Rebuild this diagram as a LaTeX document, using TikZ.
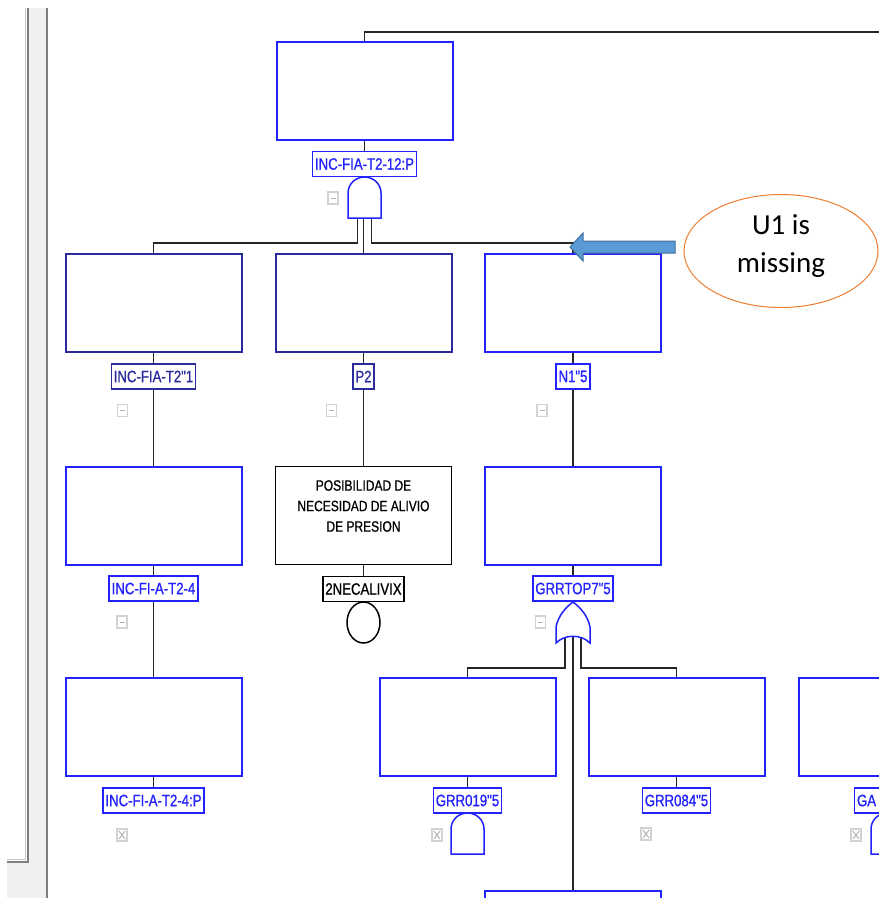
\documentclass[tikz,border=0pt]{standalone}
\usepackage{fontspec}
\usetikzlibrary{shapes.geometric}
\newfontfamily\ftafont[FakeStretch=0.8,FakeBold=0.8]{Liberation Sans}
\newfontfamily\notefont{Carlito}
\definecolor{evblue}{HTML}{2222FF}
\definecolor{evnavy}{HTML}{2B2B9E}
\definecolor{wirec}{HTML}{262626}
\definecolor{framedark}{HTML}{7E7E7E}
\definecolor{framelight}{HTML}{C4C4C4}
\definecolor{panel}{HTML}{F0F0F0}
\definecolor{iconedgec}{HTML}{D2D2D2}
\definecolor{iconmarkc}{HTML}{B4B4B4}
\definecolor{callout}{HTML}{ED7D31}
\definecolor{arrowfill}{HTML}{5B9BD5}
\definecolor{arrowedge}{HTML}{41719C}

\tikzset{
  evbox/.style={draw=evblue, line width=2pt, fill=white, minimum width=176pt, minimum height=98pt, inner sep=0pt},
  lbl/.style={draw=evblue, text=evblue, line width=1.5pt, fill=white, minimum height=25pt,
              inner xsep=2.5pt, inner ysep=0pt, font=\ftafont\fontsize{16.5}{16.5}\selectfont},
  navy/.style={draw=evnavy, text=evnavy},
  basic/.style={draw=black, text=black, line width=1.6pt},
  wire/.style={draw=wirec, line width=1.8pt},
  gate/.style={draw=evblue, line width=1.5pt, fill=white},
  iconedge/.style={draw=iconedgec, line width=1.2pt, fill=white},
  iconmark/.style={draw=iconmarkc, line width=1pt},
  pics/andgate/.style={code={
    \draw[gate] (-16.5,41) -- (-16.5,16) .. controls (-16.5,7) and (-9,0) .. (0,0)
      .. controls (9,0) and (16.5,7) .. (16.5,16) -- (16.5,41) -- cycle;
  }},
  pics/orgate/.style={code={
    \draw[gate] (-17,41) -- (-17,25) .. controls (-15,14) and (-7,5) .. (0,0)
      .. controls (7,5) and (15,14) .. (17,25) -- (17,41)
      .. controls (8,32) and (-8,32) .. (-17,41) -- cycle;
  }},
  pics/minusicon/.style={code={
    \draw[iconedge] (-5,-6) rectangle (5,6);
    \draw[iconmark] (-2.5,0) -- (2.5,0);
  }},
  pics/crossicon/.style={code={
    \draw[iconedge] (-5,-6) rectangle (5,6);
    \draw[iconmark] (-3,-4) -- (3,4) (-3,4) -- (3,-4);
  }}
}

\begin{document}
\begin{tikzpicture}[x=1pt, y=-1pt]
\useasboundingbox (0,0) rectangle (879,898);
\clip (0,0) rectangle (879,898);

% window frame on the left
\fill[panel] (29,8) rectangle (46,898);
\fill[panel] (7,862) rectangle (46,898);
\draw[framelight, line width=1pt] (25.5,8) -- (25.5,859.5) -- (7,859.5);
\draw[framedark, line width=2.5pt] (28,8) -- (28,862) -- (7,862);
\draw[framedark, line width=2.5pt] (47,8) -- (47,898);

% event boxes
\node[evbox] (top) at (364.5,91) {};
\node[evbox,navy] (e21) at (153.5,303) {};
\node[evbox,navy] (e22) at (363.5,303) {};
\node[evbox] (e23) at (573,303) {};
\node[evbox] (e31) at (153.5,515.5) {};
\node[evbox,basic] (e32) at (363.5,515.5) {};
\node[font=\ftafont\fontsize{15}{20.5}\selectfont, align=center] (e32txt) at (363.5,506)
  {POSIBILIDAD DE\\NECESIDAD DE ALIVIO\\DE PRESION};
\node[evbox] (e33) at (573,515.5) {};
\node[evbox] (e41) at (153.5,727) {};
\node[evbox] (e42) at (467.5,727) {};
\node[evbox] (e43) at (676.5,727) {};
\node[evbox] (e44) at (887,727) {};
\node[evbox] (e5) at (573,940) {};

% gate anchor points
\coordinate (parent) at (900,32);
\coordinate (g1) at (364.5,177);
\coordinate (g1a) at (357.5,218);
\coordinate (g1b) at (363.5,218);
\coordinate (g1c) at (371.5,218);
\coordinate (g3) at (573,602);
\coordinate (g3a) at (565,637);
\coordinate (g3b) at (573,636);
\coordinate (g3c) at (581,637);
\coordinate (g4) at (467.5,813);
\coordinate (g5) at (887.5,813);

% connectors
\draw[wire] (top.north) |- (parent);
\draw[wire] (g1a) -- ++(0,25) -| (e21.north);
\draw[wire] (g1b) -- (e22.north);
\draw[wire] (g1c) -- ++(0,25) -| (e23.north);
\draw[wire] (g3a) -- ++(0,31) -| (e42.north);
\draw[wire] (g3b) -- (e5.north);
\draw[wire] (g3c) -- ++(0,31) -| (e43.north);

% labels
\node[lbl] (l1) at (364.5,164) {INC-FIA-T2-12:P};
\node[lbl,navy] (l21) at (153.5,376.5) {INC-FIA-T2"1};
\node[lbl,navy] (l22) at (363.5,376.5) {P2};
\node[lbl] (l23) at (573,376.5) {N1"5};
\node[lbl] (l31) at (153.5,588.5) {INC-FI-A-T2-4};
\node[lbl,basic,line width=1.5pt] (l32) at (363.5,589) {2NECALIVIX};
\node[lbl] (l33) at (573,588.5) {GRRTOP7"5};
\node[lbl] (l41) at (153.5,800.5) {INC-FI-A-T2-4:P};
\node[lbl] (l42) at (467.5,800.5) {GRR019"5};
\node[lbl] (l43) at (676.5,800.5) {GRR084"5};
\node[lbl, text width=60pt, align=left] (l44) at (887,800.5) {GA};

\draw[wire] (top.south) -- (l1.north);
\draw[wire] (l1.south) -- (g1);
\draw[wire] (e21.south) -- (l21.north);
\draw[wire] (l21.south) -- (e31.north);
\draw[wire] (e22.south) -- (l22.north);
\draw[wire] (l22.south) -- (e32.north);
\draw[wire] (e23.south) -- (l23.north);
\draw[wire] (l23.south) -- (e33.north);
\draw[wire] (e31.south) -- (l31.north);
\draw[wire] (l31.south) -- (e41.north);
\draw[wire] (e32.south) -- (l32.north);
\draw[wire] (e33.south) -- (l33.north);
\draw[wire] (l33.south) -- (g3);
\draw[wire] (e41.south) -- (l41.north);
\draw[wire] (e42.south) -- (l42.north);
\draw[wire] (l42.south) -- (g4);
\draw[wire] (e43.south) -- (l43.north);
\draw[wire] (e44.south) -- (e44.south |- l44.north);

% gates and basic event circle
\pic at (g1) {andgate};
\pic at (g3) {orgate};
\pic at (g4) {andgate};
\pic at (g5) {andgate};
\node[draw=black, line width=1.5pt, ellipse, minimum width=33pt, minimum height=41pt, inner sep=0pt]
  (u32) at (363.5,622.5) {};

% expand / state icons
\pic at (333,198) {minusicon};
\pic at (122.5,410.5) {minusicon};
\pic at (331.5,410.5) {minusicon};
\pic at (542,410.5) {minusicon};
\pic at (122,622) {minusicon};
\pic at (540.5,622) {minusicon};
\pic at (122,835) {crossicon};
\pic at (437,835) {crossicon};
\pic at (646,834) {crossicon};
\pic at (856,835) {crossicon};

% callout
\draw[fill=arrowfill, draw=arrowedge, line width=1pt]
  (675,241) -- (583,241) -- (583,233) -- (570,247) -- (583,261) -- (583,253) -- (675,253) -- cycle;
\node[draw=callout, line width=1pt, ellipse, minimum width=194pt, minimum height=113pt, inner sep=0pt]
  (note) at (781,251) {};
\node[font=\notefont\fontsize{29}{38}\selectfont, align=center] (notetxt) at (781,246) {U1 is\\missing};
\end{tikzpicture}
\end{document}
